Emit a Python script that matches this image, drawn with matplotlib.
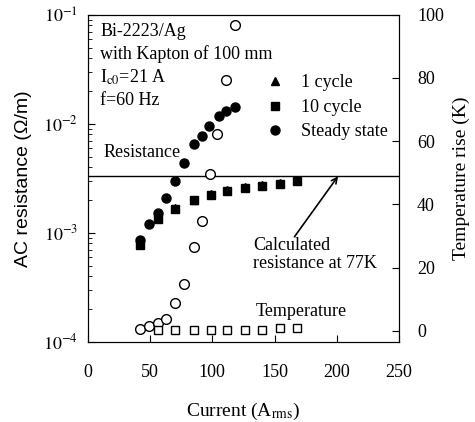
import numpy as np
import matplotlib
matplotlib.use("Agg")
import matplotlib.pyplot as plt

plt.rcParams['font.family'] = ['Liberation Serif', 'DejaVu Serif']
plt.rcParams['mathtext.fontset'] = 'stix'

# AC resistance data (Ohm/m) vs current (A rms)
I_steady = [42, 49, 56, 63, 70, 77, 85, 92, 97, 105, 111, 118]
R_steady = [8.6e-4, 1.21e-3, 1.52e-3, 2.08e-3, 3.0e-3, 4.35e-3, 6.56e-3, 7.76e-3,
            9.6e-3, 1.17e-2, 1.32e-2, 1.44e-2]

I_cycle = [42, 56, 70, 85, 99, 112, 126, 140, 154, 168]
R_10cycle = [7.8e-4, 1.34e-3, 1.66e-3, 1.98e-3, 2.2e-3, 2.43e-3, 2.57e-3, 2.7e-3, 2.82e-3, 2.96e-3]
R_1cycle = [8.1e-4, 1.38e-3, 1.70e-3, 2.02e-3, 2.25e-3, 2.47e-3, 2.62e-3, 2.75e-3, 2.88e-3, 3.02e-3]

R_calc = 3.3e-3  # calculated resistance at 77 K

# temperature rise (K)
I_temp_ss = [42, 49, 56, 63, 70, 77, 85, 92, 98, 104, 111, 118]
T_ss = [0.5, 1.4, 2.6, 3.7, 8.8, 14.9, 26.5, 34.6, 49.6, 62.4, 79.4, 96.8]
I_temp_10 = [56, 70, 85, 99, 112, 126, 140, 154, 168]
T_10 = [0.3, 0.3, 0.3, 0.3, 0.3, 0.3, 0.3, 0.8, 0.8]

fig = plt.figure(figsize=(4.75, 4.22), dpi=100)
ax = fig.add_axes([0.185, 0.19, 0.655, 0.775])

ax.plot(I_cycle, R_1cycle, '^', color='black', markersize=6, ls='none', label='1 cycle')
ax.plot(I_cycle, R_10cycle, 's', color='black', markersize=5.5, ls='none', label='10 cycle')
ax.plot(I_steady, R_steady, 'o', color='black', markersize=6.5, ls='none', label='Steady state')
ax.axhline(R_calc, color='black', lw=1)

ax.set_yscale('log')
ax.set_xlim(0, 250)
ax.set_ylim(1e-4, 1e-1)
ax.set_xticks([0, 50, 100, 150, 200, 250])
ax.set_yticks([1e-4, 1e-3, 1e-2, 1e-1])
ax.set_yticklabels([r'$10^{-4}$', r'$10^{-3}$', r'$10^{-2}$', r'$10^{-1}$'])
ax.tick_params(which='both', direction='in', labelsize=13)
ax.tick_params(axis='x', pad=16)
ax.tick_params(axis='y', pad=7)
ax.tick_params(which='major', length=5)
ax.tick_params(which='minor', length=3)
ax.set_xlabel(r'Current (A$_{\mathrm{rms}}$)', fontsize=14, labelpad=14)
ax.set_ylabel('AC resistance (Ω/m)', fontsize=14, family=['Liberation Sans', 'DejaVu Sans'], labelpad=8)

ax2 = ax.twinx()
ax2.plot(I_temp_ss, T_ss, 'o', mfc='white', mec='black', markersize=7, ls='none')
ax2.plot(I_temp_10, T_10, 's', mfc='white', mec='black', markersize=5.5, ls='none')
ax2.set_ylim(-3.5, 100)
ax2.set_yticks([0, 20, 40, 60, 80, 100])
ax2.tick_params(direction='in', labelsize=13, pad=13, length=5)
ax2.set_ylabel('Temperature rise (K)', fontsize=14, labelpad=6)

ax.text(0.04, 0.975, 'Bi-2223/Ag\nwith Kapton of 100 mm\n' + r'I$_{\mathrm{c0}}$=21 A' + '\nf=60 Hz',
        transform=ax.transAxes, fontsize=13, va='top', ha='left', linespacing=1.35)
ax.text(0.05, 0.58, 'Resistance', transform=ax.transAxes, fontsize=13, va='center')
ax.text(0.54, 0.092, 'Temperature', transform=ax.transAxes, fontsize=13, va='center')
ax.text(133, 6.3e-4, 'Calculated\nresistance at 77K', fontsize=13, ha='left', va='center',
        linespacing=1.05)
ax.annotate('', xy=(201, R_calc), xytext=(166, 9.2e-4),
            arrowprops=dict(arrowstyle='->', color='black', lw=1.2, shrinkA=0, shrinkB=0))

ax.legend(loc='upper left', bbox_to_anchor=(0.55, 0.84), frameon=False, fontsize=13,
          handlelength=1.0, handletextpad=0.9, labelspacing=0.42, borderaxespad=0)

fig.savefig('out.png', dpi=100)
